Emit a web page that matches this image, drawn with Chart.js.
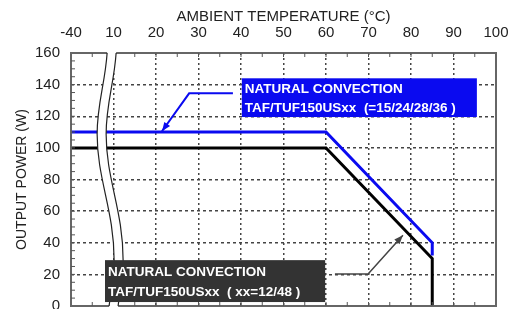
<!DOCTYPE html>
<html>
<head>
<meta charset="utf-8">
<script src="https://cdn.jsdelivr.net/npm/chart.js@4"></script>
<style>
  html, body { margin: 0; padding: 0; background: #fff; }
  canvas { display: block; }
</style>
</head>
<body>
<canvas id="derating" width="525" height="309"></canvas>
<script>
// tick labels
const tempTicks = [-40, 10, 20, 30, 40, 50, 60, 70, 80, 90, 100];
const powerTicks = [0, 20, 40, 60, 80, 100, 120, 140, 160];

// derating curves: ambient temperature (°C) / output power (W)
const blueTemp = [-40, 60, 85, 85];
const bluePower = [110, 110, 40, 32];
const blackTemp = [-40, 60, 85, 85];
const blackPower = [100, 100, 30, 0];

const blueLabel = ['NATURAL CONVECTION', 'TAF/TUF150USxx  (=15/24/28/36 )'];
const blackLabel = ['NATURAL CONVECTION', 'TAF/TUF150USxx  ( xx=12/48 )'];

// -40..10 is squeezed into a single grid cell (broken axis)
function brk(t) {
    return t < 10 ? (t + 40) / 5 : t;
}

const FONT = '"Liberation Sans", Arial, sans-serif';

// callout boxes and arrows, in axis units
const callouts = [
    { box: [40.2, 95.5, 119.5, 144], fill: '#0a0af0', lines: blueLabel, pos: [0.28, 0.77],
      arrow: [[38.1, 134.5], [27.8, 134.5], [21.4, 110.5]], color: '#0a0af0', width: 2 },
    { box: [8, 59.8, 2.5, 29], fill: '#333', lines: blackLabel, pos: [0.28, 0.77],
      arrow: [[62.1, 20.2], [69.9, 20.2], [78.1, 44.8]], color: '#444', width: 1.5 }
];

const decor = {
    id: 'decor',
    afterDatasetsDraw(chart) {
        const { ctx, chartArea: a, scales: { x, y } } = chart;
        ctx.save();

        // frame
        ctx.strokeStyle = '#666';
        ctx.lineWidth = 2;
        ctx.strokeRect(a.left, a.top, a.right - a.left, a.bottom - a.top);

        // minor ticks
        ctx.lineWidth = 1;
        ctx.strokeStyle = '#555';
        for (let v = 5; v < 160; v += 5) {
            const py = y.getPixelForValue(v);
            ctx.beginPath(); ctx.moveTo(a.left, py); ctx.lineTo(a.left + 4, py); ctx.stroke();
        }
        for (let v = 5; v < 100; v += 5) {
            const px = x.getPixelForValue(v);
            ctx.beginPath(); ctx.moveTo(px, a.top); ctx.lineTo(px, a.top + 4); ctx.stroke();
            ctx.beginPath(); ctx.moveTo(px, a.bottom); ctx.lineTo(px, a.bottom - 4); ctx.stroke();
        }

        // axis break
        const h = a.bottom - a.top;
        const bx = x.getPixelForValue(8.5);
        const wave = (off, ext) => {
            ctx.beginPath();
            ctx.moveTo(bx + off, a.top - ext);
            ctx.lineTo(bx + off, a.top);
            ctx.bezierCurveTo(bx + off - 2, a.top + 0.12 * h, bx + off - 10, a.top + 0.2 * h, bx + off - 10, a.top + 0.32 * h);
            ctx.bezierCurveTo(bx + off - 10, a.top + 0.5 * h, bx + off + 7, a.top + 0.62 * h, bx + off + 7, a.top + 0.82 * h);
            ctx.bezierCurveTo(bx + off + 7, a.top + 0.9 * h, bx + off + 3, a.top + 0.96 * h, bx + off + 2, a.bottom);
            ctx.lineTo(bx + off + 2, a.bottom + ext);
        };
        ctx.strokeStyle = '#fff';
        ctx.lineWidth = 9;
        wave(4.5, 3);
        ctx.stroke();
        ctx.strokeStyle = '#222';
        ctx.lineWidth = 1.2;
        wave(0, 0); ctx.stroke();
        wave(9, 0); ctx.stroke();

        // callouts
        callouts.forEach(c => {
            const pts = c.arrow.map(p => [x.getPixelForValue(p[0]), y.getPixelForValue(p[1])]);
            ctx.strokeStyle = c.color;
            ctx.fillStyle = c.color;
            ctx.lineWidth = c.width;
            ctx.beginPath();
            pts.forEach((p, i) => i ? ctx.lineTo(p[0], p[1]) : ctx.moveTo(p[0], p[1]));
            ctx.stroke();
            const [px, py] = pts[pts.length - 2];
            const [tx, ty] = pts[pts.length - 1];
            const ang = Math.atan2(ty - py, tx - px);
            ctx.beginPath();
            ctx.moveTo(tx, ty);
            ctx.lineTo(tx - 9 * Math.cos(ang) + 3.5 * Math.sin(ang), ty - 9 * Math.sin(ang) - 3.5 * Math.cos(ang));
            ctx.lineTo(tx - 9 * Math.cos(ang) - 3.5 * Math.sin(ang), ty - 9 * Math.sin(ang) + 3.5 * Math.cos(ang));
            ctx.closePath();
            ctx.fill();

            const x0 = x.getPixelForValue(c.box[0]), x1 = x.getPixelForValue(c.box[1]);
            const y0 = y.getPixelForValue(c.box[3]), y1 = y.getPixelForValue(c.box[2]);
            ctx.fillStyle = c.fill;
            ctx.fillRect(x0, y0, x1 - x0, y1 - y0);
            ctx.fillStyle = '#fff';
            ctx.font = 'bold 13.5px ' + FONT;
            ctx.textBaseline = 'middle';
            ctx.textAlign = 'left';
            c.lines.forEach((t, i) => ctx.fillText(t, x0 + 3, y0 + c.pos[i] * (y1 - y0)));
        });
        ctx.restore();
    }
};

new Chart(document.getElementById('derating').getContext('2d'), {
    type: 'line',
    data: {
        datasets: [
            {
                label: 'blue',
                data: blueTemp.map((t, i) => ({ x: brk(t), y: bluePower[i] })),
                borderColor: '#0a0af0',
                borderWidth: 3,
                pointRadius: 0,
                tension: 0
            },
            {
                label: 'black',
                data: blackTemp.map((t, i) => ({ x: brk(t), y: blackPower[i] })),
                borderColor: '#000',
                borderWidth: 3,
                pointRadius: 0,
                tension: 0
            }
        ]
    },
    options: {
        responsive: false,
        animation: false,
        layout: { padding: { left: 0, top: 0, right: 29, bottom: 3 } },
        plugins: { legend: { display: false }, tooltip: { enabled: false } },
        scales: {
            x: {
                type: 'linear',
                position: 'top',
                min: 0,
                max: 100,
                afterBuildTicks: s => { s.ticks = tempTicks.map(t => ({ value: brk(t) })); },
                afterFit: s => { s.height = 53; s.paddingLeft = 0; s.paddingRight = 0; },
                ticks: {
                    autoSkip: false,
                    maxRotation: 0,
                    padding: 11,
                    color: '#222',
                    font: { family: FONT, size: 15 },
                    callback: (v, i) => String(tempTicks[i])
                },
                grid: { color: '#444', lineWidth: 1.5, drawTicks: false, borderDash: [2, 3] },
                border: { display: false, dash: [2, 3] },
                title: {
                    display: true,
                    text: 'AMBIENT TEMPERATURE (°C)',
                    color: '#222',
                    font: { family: FONT, size: 15 },
                    padding: { top: 8, bottom: 0 }
                }
            },
            y: {
                min: 0,
                max: 160,
                afterBuildTicks: s => { s.ticks = powerTicks.map(v => ({ value: v })); },
                afterFit: s => { s.width = 71; s.paddingTop = 0; s.paddingBottom = 0; },
                ticks: {
                    padding: 11,
                    color: '#222',
                    font: { family: FONT, size: 15 }
                },
                grid: { color: '#444', lineWidth: 1.5, drawTicks: false, borderDash: [3, 3] },
                border: { display: false, dash: [3, 3] },
                title: {
                    display: true,
                    text: 'OUTPUT POWER (W)',
                    color: '#222',
                    font: { family: FONT, size: 14 },
                    padding: { top: 14, bottom: 0 }
                }
            }
        }
    },
    plugins: [decor]
});
</script>
</body>
</html>
